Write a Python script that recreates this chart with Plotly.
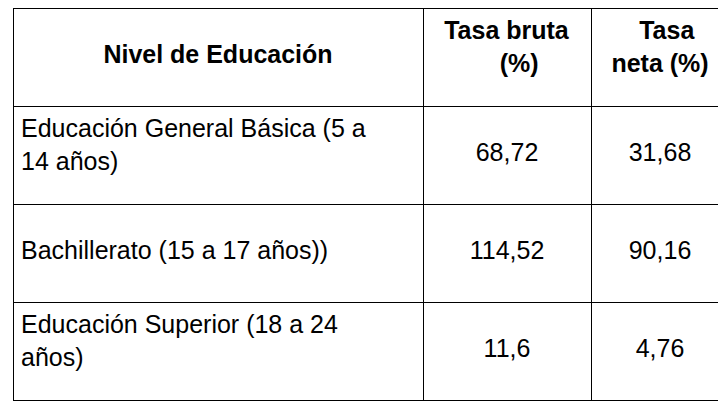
import plotly.graph_objects as go

# Table contents
header = ["Nivel de Educación", "Tasa bruta<br>&nbsp;&nbsp;&nbsp;&nbsp;&nbsp;&nbsp;&nbsp;&nbsp;(%)",
          "&nbsp;&nbsp;&nbsp;&nbsp;Tasa<br>neta (%)"]
niveles = ["Educación General Básica (5 a<br>14 años)",
           "Bachillerato (15 a 17 años))",
           "Educación Superior (18 a 24<br>años)"]
tasa_bruta = ["68,72", "114,52", "11,6"]
tasa_neta = ["31,68", "90,16", "4,76"]


def centre(txt):
    # push single-line text down half a line so it sits in the middle
    if "<br>" in txt:
        return txt
    return "<span style='font-size:15px'> </span><br>" + txt


fnt = dict(family="Liberation Sans, Arial", size=25, color="black")

fig = go.Figure(go.Table(
    columnwidth=[410, 168, 138],
    header=dict(
        values=["<b>" + centre(h) + "</b>" for h in header],
        align="center",
        height=98,
        line=dict(color="#000000", width=1),
        fill_color="white",
        font=fnt,
    ),
    cells=dict(
        values=[[centre(t) for t in niveles],
                [centre(t) for t in tasa_bruta],
                [centre(t) for t in tasa_neta]],
        align=["left", "center", "center"],
        height=98,
        line=dict(color="#000000", width=1),
        fill_color="white",
        font=fnt,
    ),
))

fig.update_layout(width=726, height=403,
                  margin=dict(l=5, r=5, t=0, b=0),
                  paper_bgcolor="white")

fig.write_html("out.html")
